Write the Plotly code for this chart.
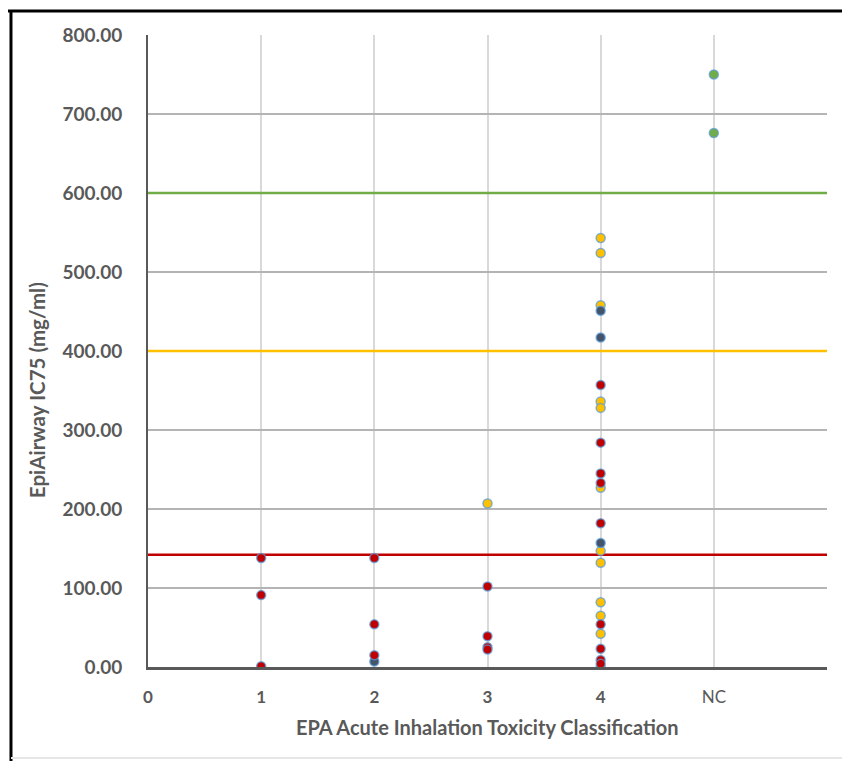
import plotly.graph_objects as go

# ---- data ----
tick_vals = [0, 1, 2, 3, 4, 5, 6]
tick_labels = ["<b>0</b>", "<b>1</b>", "<b>2</b>", "<b>3</b>", "<b>4</b>", "NC", ""]

red_x = [1, 1, 1, 2, 2, 2, 3, 3, 3, 3, 4, 4, 4, 4, 4, 4, 4, 4, 4]
red_y = [138, 91, 1, 138, 54, 15, 102, 39, 25, 22, 357, 284, 245, 233, 182, 54, 23, 9, 4]

yellow_x = [3, 4, 4, 4, 4, 4, 4, 4, 4, 4, 4, 4, 4]
yellow_y = [207, 543, 524, 458, 336, 328, 227, 147, 132, 82, 65, 42, 0]

navy_x = [2, 4, 4, 4]
navy_y = [7, 451, 417, 157]

green_x = [5, 5]
green_y = [750, 676]

thresholds = [600, 400, 142]
threshold_colors = ["#70AD47", "#FFC000", "#C00000"]
x_span = [0, 6]

FONT = "Lato, Open Sans, sans-serif"
GREY = "#595959"

fig = go.Figure()

for t, c in zip(thresholds, threshold_colors):
    fig.add_trace(go.Scatter(x=x_span, y=[t, t], mode="lines",
                             line=dict(color=c, width=2.5), hoverinfo="skip"))

def pts(x, y, color):
    fig.add_trace(go.Scatter(
        x=x, y=y, mode="markers",
        marker=dict(size=9, color=color,
                    line=dict(color="rgba(91,155,213,0.75)", width=1.5))))

pts(yellow_x, yellow_y, "#FFC000")
pts(navy_x, navy_y, "#44546A")
pts(red_x, red_y, "#C00000")
pts(green_x, green_y, "#70AD47")

# page body has an 8px margin, so the figure is 8px smaller than the window
fig.update_layout(
    width=842, height=753,
    margin=dict(l=140, r=23, t=27, b=94),
    paper_bgcolor="white", plot_bgcolor="white",
    showlegend=False,
    font=dict(family=FONT, color=GREY),
)

fig.update_xaxes(
    range=[0, 6], tickvals=tick_vals, ticktext=tick_labels,
    tickfont=dict(family=FONT, size=17, color=GREY),
    showgrid=True, gridcolor="#D9D9D9", gridwidth=1.5,
    showline=True, linecolor="#595959", linewidth=3,
    zeroline=False, ticks="", ticklabelstandoff=13,
    layer="below traces",
)
fig.update_yaxes(
    range=[0, 800], dtick=100, tickformat=".2f",
    tickfont=dict(family=FONT, size=19, color=GREY, weight="bold"),
    showgrid=True, gridcolor="#B4B4B4", gridwidth=1.5,
    showline=True, linecolor="#595959", linewidth=2,
    zeroline=False, ticks="", ticklabelstandoff=20,
    layer="below traces",
)

fig.add_annotation(xref="paper", yref="paper", x=-0.1635, y=0.438,
                   xanchor="center", yanchor="middle",
                   text="<b>EpiAirway IC75 (mg/ml)</b>", textangle=-90, showarrow=False,
                   font=dict(family=FONT, size=20.5, color=GREY))
fig.add_annotation(xref="paper", yref="paper", x=0.5, y=-0.095,
                   xanchor="center", yanchor="middle",
                   text="<b>EPA Acute Inhalation Toxicity Classification</b>", showarrow=False,
                   font=dict(family=FONT, size=20, color=GREY))

# frame of the original screenshot
fig.add_shape(type="line", xref="paper", yref="paper", x0=-0.2018, x1=-0.2018,
              y0=1.038, y1=-0.16, line=dict(color="black", width=3))
fig.add_shape(type="line", xref="paper", yref="paper", x0=-0.21, x1=1.04,
              y0=1.038, y1=1.038, line=dict(color="black", width=3))
fig.add_shape(type="line", xref="paper", yref="paper", x0=-0.2018, x1=1.04,
              y0=-0.144, y1=-0.144, line=dict(color="#E6E6E6", width=2))
fig.add_shape(type="line", xref="paper", yref="paper", x0=1.031, x1=1.031,
              y0=1.036, y1=-0.144, line=dict(color="#E6E6E6", width=2))

fig.write_html("out.html")
